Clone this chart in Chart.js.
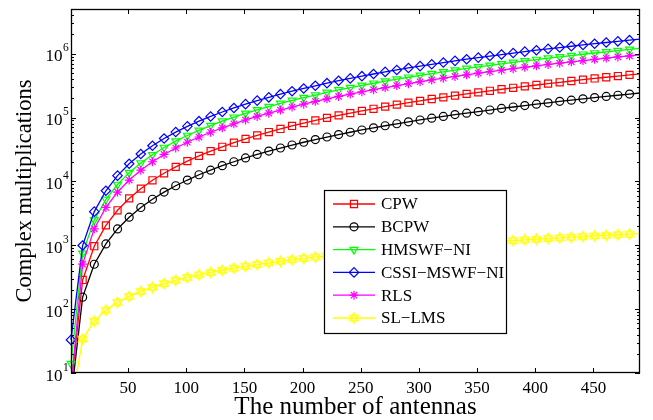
<!DOCTYPE html>
<html>
<head>
<meta charset="utf-8">
<script src="https://cdn.jsdelivr.net/npm/chart.js@4.4.2/dist/chart.umd.min.js"></script>
<style>
  html, body { margin: 0; padding: 0; background: #fff; }
  canvas { display: block; }
</style>
</head>
<body>
<canvas id="chart" width="653" height="420"></canvas>
<script>
// values (markers every 10 antennas, line runs on to 490)
const antennas = [1, 11, 21, 31, 41, 51, 61, 71, 81, 91, 101, 111, 121, 131, 141, 151, 161, 171, 181, 191,
  201, 211, 221, 231, 241, 251, 261, 271, 281, 291, 301, 311, 321, 331, 341, 351, 361, 371, 381, 391,
  401, 411, 421, 431, 441, 451, 461, 471, 481, 490];

const cpw = [6, 286, 966, 2050, 3530, 5410, 7690, 10400, 13400, 16900, 20800, 25100, 29800, 34800, 40300,
  46200, 52500, 59200, 66200, 73700, 81600, 89900, 98600, 108000, 117000, 127000, 137000, 148000, 159000,
  171000, 182000, 195000, 207000, 220000, 234000, 248000, 262000, 277000, 292000, 307000, 323000, 339000,
  356000, 373000, 391000, 409000, 427000, 446000, 465000, 482000];

const bcpw = [4, 154, 504, 1050, 1800, 2750, 3900, 5250, 6800, 8550, 10500, 12700, 15000, 17600, 20300,
  23300, 26400, 29800, 33300, 37100, 41000, 45200, 49500, 54100, 58800, 63800, 68900, 74300, 79800, 85600,
  91500, 97700, 104000, 111000, 117000, 124000, 131000, 139000, 146000, 154000, 162000, 170000, 179000,
  187000, 196000, 205000, 214000, 223000, 233000, 242000];

const hmswf = [14, 748, 2480, 5210, 8940, 13700, 19400, 26100, 33900, 42600, 52300, 63000, 74800, 87500,
  101000, 116000, 132000, 148000, 166000, 185000, 205000, 225000, 247000, 270000, 294000, 318000, 344000,
  371000, 398000, 427000, 457000, 488000, 519000, 552000, 586000, 621000, 656000, 693000, 731000, 769000,
  809000, 850000, 892000, 934000, 978000, 1023000, 1069000, 1115000, 1163000, 1207000];

const cssi = [33, 990, 3360, 7130, 12300, 18900, 26800, 36200, 47000, 59200, 72700, 87700, 104000, 122000,
  141000, 162000, 184000, 207000, 232000, 258000, 285000, 314000, 345000, 377000, 410000, 444000, 480000,
  518000, 556000, 597000, 638000, 681000, 725000, 771000, 818000, 867000, 917000, 968000, 1021000, 1075000,
  1131000, 1188000, 1246000, 1306000, 1367000, 1430000, 1494000, 1559000, 1626000, 1687000];

const rls = [6, 506, 1810, 3910, 6810, 10500, 15000, 20300, 26400, 33300, 41000, 49500, 58800, 68900,
  79800, 91500, 104000, 117000, 131000, 146000, 162000, 179000, 196000, 214000, 233000, 253000, 273000,
  294000, 316000, 339000, 363000, 388000, 413000, 439000, 466000, 494000, 522000, 551000, 581000, 612000,
  644000, 677000, 710000, 744000, 779000, 815000, 851000, 888000, 926000, 961000];

const sllms = [3, 34, 65, 96, 127, 158, 189, 220, 251, 282, 313, 344, 375, 406, 437, 468, 499, 530, 561,
  592, 623, 654, 685, 716, 747, 778, 809, 840, 871, 902, 933, 964, 995, 1026, 1057, 1088, 1119, 1150, 1181,
  1212, 1243, 1274, 1305, 1336, 1367, 1398, 1429, 1460, 1491, 1519];

const seriesNames = ['CPW', 'BCPW', 'HMSWF\u2212NI', 'CSSI\u2212MSWF\u2212NI', 'RLS', 'SL\u2212LMS'];

const xTicks = [50, 100, 150, 200, 250, 300, 350, 400, 450];
const yTicks = [10, 100, 1000, 10000, 100000, 1000000];
const yTickExponents = ['1', '2', '3', '4', '5', '6'];

const FONT = "'Liberation Serif', 'Times New Roman', serif";

// MATLAB style hexagram marker
function hexagram(color) {
  const c = document.createElement('canvas');
  c.width = 13;
  c.height = 13;
  const g = c.getContext('2d');
  g.strokeStyle = color;
  g.lineWidth = 1.2;
  [-Math.PI / 2, Math.PI / 2].forEach((off) => {
    g.beginPath();
    for (let k = 0; k < 3; k++) {
      const a = off + k * 2 * Math.PI / 3;
      const px = 6.5 + 5.2 * Math.cos(a);
      const py = 6.5 + 5.2 * Math.sin(a);
      k ? g.lineTo(px, py) : g.moveTo(px, py);
    }
    g.closePath();
    g.stroke();
  });
  return c;
}

const styles = [
  { color: '#ff0000', pointStyle: 'rect', radius: 5, rotation: 0 },
  { color: '#000000', pointStyle: 'circle', radius: 4, rotation: 0 },
  { color: '#00ff00', pointStyle: 'triangle', radius: 4.5, rotation: 180 },
  { color: '#0000ff', pointStyle: 'rectRot', radius: 4.7, rotation: 0 },
  { color: '#ff00ff', pointStyle: 'star', radius: 4.5, rotation: 0 },
  { color: '#ffff00', pointStyle: hexagram('#ffff00'), radius: 5, rotation: 0 }
];

const values = [cpw, bcpw, hmswf, cssi, rls, sllms];

const datasets = values.map((vals, i) => ({
  label: seriesNames[i],
  data: antennas.map((n, j) => ({ x: n, y: vals[j] })),
  borderColor: styles[i].color,
  backgroundColor: 'rgba(0,0,0,0)',
  borderWidth: 1.3,
  pointStyle: styles[i].pointStyle,
  pointRotation: styles[i].rotation,
  pointBorderColor: styles[i].color,
  pointBackgroundColor: 'rgba(0,0,0,0)',
  pointBorderWidth: 1.2,
  pointRadius: antennas.map((n, j) => (j === antennas.length - 1 ? 0 : styles[i].radius)),
  tension: 0,
  order: values.length - i,
  clip: { left: 8, top: 0, right: 0, bottom: 0 }
}));

const legendBox = {
  id: 'legendBox',
  afterDatasetsDraw(chart) {
    const ctx = chart.ctx;
    const left = 324, top = 190, width = 182, height = 143;
    ctx.save();
    ctx.fillStyle = '#fff';
    ctx.fillRect(left, top, width, height);
    ctx.strokeStyle = '#000';
    ctx.lineWidth = 1.2;
    ctx.strokeRect(left + 0.5, top + 0.5, width, height);
    ctx.font = '17px ' + FONT;
    ctx.textBaseline = 'middle';
    seriesNames.forEach((name, i) => {
      const y = top + 14 + i * 22.8;
      const s = styles[i];
      ctx.strokeStyle = s.color;
      ctx.lineWidth = 1.3;
      ctx.beginPath();
      ctx.moveTo(333, y);
      ctx.lineTo(375, y);
      ctx.stroke();
      ctx.fillStyle = 'rgba(0,0,0,0)';
      ctx.lineWidth = 1.2;
      Chart.helpers.drawPoint(ctx, { pointStyle: s.pointStyle, radius: s.radius, rotation: s.rotation, borderWidth: 1.2 }, 354, y);
      ctx.fillStyle = '#000';
      ctx.fillText(name, 381, y + 1);
    });
    ctx.restore();
  }
};

const frame = {
  id: 'frame',
  afterDraw(chart) {
    const { ctx, chartArea: a, scales: { x, y } } = chart;
    ctx.save();
    ctx.strokeStyle = '#000';
    ctx.lineWidth = 1;
    ctx.beginPath();
    xTicks.forEach((v) => {
      const px = Math.round(x.getPixelForValue(v)) + 0.5;
      ctx.moveTo(px, a.bottom);
      ctx.lineTo(px, a.bottom - 5);
      ctx.moveTo(px, a.top);
      ctx.lineTo(px, a.top + 5);
    });
    yTicks.forEach((d) => {
      for (let m = 1; m < 10; m++) {
        if (d * m > y.max) break;
        const py = Math.round(y.getPixelForValue(d * m)) + 0.5;
        const len = m === 1 ? 5 : 3;
        ctx.moveTo(a.left, py);
        ctx.lineTo(a.left + len, py);
        ctx.moveTo(a.right, py);
        ctx.lineTo(a.right - len, py);
      }
    });
    ctx.stroke();
    ctx.lineWidth = 1.3;
    ctx.strokeRect(a.left + 0.5, a.top + 0.5, a.right - a.left - 1, a.bottom - a.top - 1);

    // y tick labels: 10 with a raised exponent
    ctx.fillStyle = '#000';
    ctx.textBaseline = 'alphabetic';
    yTicks.forEach((v, i) => {
      const py = y.getPixelForValue(v);
      ctx.font = '17px ' + FONT;
      ctx.textAlign = 'right';
      ctx.fillText('10', a.left - 8.5, py + 7.5);
      ctx.font = '11.5px ' + FONT;
      ctx.textAlign = 'left';
      ctx.fillText(yTickExponents[i], a.left - 8, py - 2.5);
    });
    ctx.restore();
  }
};

new Chart(document.getElementById('chart'), {
  type: 'line',
  data: { datasets: datasets },
  options: {
    responsive: false,
    animation: false,
    devicePixelRatio: 1,
    layout: { padding: { left: 0, right: 13, top: 9, bottom: 0 } },
    plugins: {
      legend: { display: false },
      tooltip: { enabled: false }
    },
    scales: {
      x: {
        type: 'linear',
        min: 1,
        max: 490,
        afterBuildTicks: (scale) => { scale.ticks = xTicks.map((v) => ({ value: v })); },
        afterFit: (scale) => { scale.height = 47; },
        grid: { display: false, drawTicks: false },
        border: { display: false },
        ticks: {
          color: '#000',
          padding: 5,
          maxRotation: 0,
          font: { family: FONT, size: 17 }
        },
        title: {
          display: true,
          text: 'The number of antennas',
          color: '#000',
          padding: { top: 0, bottom: 0 },
          font: { family: FONT, size: 25, lineHeight: 1.04 }
        }
      },
      y: {
        type: 'logarithmic',
        min: 10,
        max: 5000000,
        afterBuildTicks: (scale) => { scale.ticks = yTicks.map((v) => ({ value: v })); },
        afterFit: (scale) => { scale.width = 71; },
        grid: { display: false, drawTicks: false },
        border: { display: false },
        ticks: { display: false },
        title: {
          display: true,
          text: 'Complex multiplications',
          color: '#000',
          padding: { top: 12, bottom: 0 },
          font: { family: FONT, size: 22.5, lineHeight: 1.2 }
        }
      }
    }
  },
  plugins: [legendBox, frame]
});
</script>
</body>
</html>
